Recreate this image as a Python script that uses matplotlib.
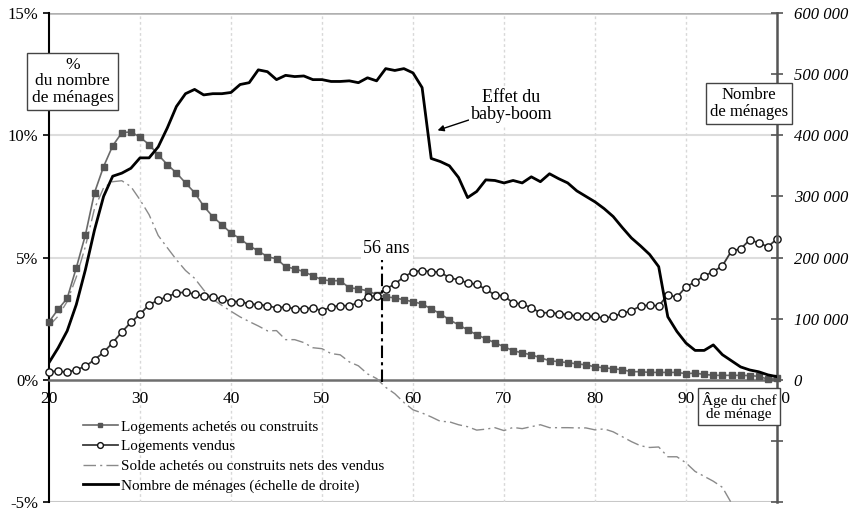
import matplotlib
matplotlib.use("Agg")
import matplotlib.pyplot as plt
import numpy as np
from matplotlib.ticker import FuncFormatter

plt.rcParams['font.family'] = ['Liberation Serif', 'DejaVu Serif']

ages = np.arange(20, 101)

# % du nombre de ménages
achetes = [2.37, 2.88, 3.33, 4.58, 5.92, 7.65, 8.72, 9.57, 10.1, 10.14,
           9.92, 9.62, 9.2, 8.8, 8.46, 8.05, 7.65, 7.1, 6.67, 6.34,
           6.0, 5.77, 5.48, 5.27, 5.03, 4.95, 4.62, 4.54, 4.42, 4.25,
           4.09, 4.05, 4.05, 3.76, 3.72, 3.64, 3.48, 3.39, 3.35, 3.27,
           3.19, 3.1, 2.9, 2.7, 2.45, 2.25, 2.04, 1.84, 1.68, 1.51,
           1.35, 1.19, 1.1, 1.02, 0.9, 0.78, 0.74, 0.7, 0.65, 0.61,
           0.53, 0.49, 0.45, 0.41, 0.33, 0.33, 0.3, 0.3, 0.3, 0.3,
           0.25, 0.27, 0.22, 0.18, 0.18, 0.18, 0.18, 0.17, 0.14, 0.02, 0.07]
vendus = [0.33, 0.35, 0.31, 0.41, 0.55, 0.82, 1.12, 1.52, 1.95, 2.35,
          2.68, 3.07, 3.25, 3.4, 3.55, 3.58, 3.5, 3.43, 3.38, 3.3,
          3.2, 3.2, 3.1, 3.07, 3.03, 2.94, 2.98, 2.9, 2.9, 2.94,
          2.82, 2.98, 3.03, 3.03, 3.15, 3.4, 3.43, 3.7, 3.92, 4.2,
          4.42, 4.46, 4.42, 4.4, 4.17, 4.09, 3.96, 3.9, 3.7, 3.47,
          3.43, 3.14, 3.1, 2.94, 2.74, 2.74, 2.7, 2.66, 2.6, 2.59,
          2.59, 2.52, 2.59, 2.72, 2.82, 3.02, 3.05, 3.02, 3.47, 3.38,
          3.8, 4.0, 4.25, 4.42, 4.66, 5.27, 5.35, 5.72, 5.6, 5.44, 5.76]
solde = [2.2, 2.6, 3.2, 4.2, 5.45, 7.0, 7.85, 8.1, 8.14, 7.9,
         7.36, 6.75, 5.9, 5.4, 4.91, 4.47, 4.15, 3.67, 3.29, 3.04,
         2.8, 2.57, 2.38, 2.2, 2.0, 2.01, 1.64, 1.64, 1.52, 1.31,
         1.27, 1.07, 1.02, 0.73, 0.57, 0.24, 0.05, -0.31, -0.57, -0.93,
         -1.23, -1.36, -1.52, -1.7, -1.72, -1.84, -1.92, -2.06, -2.02, -1.96,
         -2.08, -1.95, -2.0, -1.92, -1.84, -1.96, -1.96, -1.96, -1.97, -1.97,
         -2.05, -2.01, -2.13, -2.33, -2.53, -2.7, -2.77, -2.75, -3.15, -3.15,
         -3.4, -3.75, -3.95, -4.15, -4.4, -5.05, -5.15, -5.5, -5.4, -5.3, -5.7]
# nombre de ménages (échelle de droite)
menages = [28000, 52000, 80000, 123000, 180000, 245000, 300000, 333000, 338000, 346000,
           363000, 363000, 381000, 412000, 447000, 468000, 475000, 466000, 468000, 468000,
           470000, 483000, 486000, 507000, 504000, 491000, 498000, 496000, 497000, 491000,
           491000, 488000, 488000, 489000, 486000, 494000, 489000, 509000, 506000, 509000,
           502000, 478000, 362000, 357000, 350000, 331000, 298000, 308000, 327000, 326000,
           322000, 326000, 322000, 332000, 324000, 337000, 329000, 322000, 309000, 300000,
           291000, 280000, 267000, 249000, 232000, 219000, 205000, 185000, 103000, 79000,
           60000, 48000, 48000, 57000, 41000, 31000, 21000, 16000, 13000, 8000, 5000]

xticks = [20, 30, 40, 50, 60, 70, 80, 90, 100]
yticks = [-5, 0, 5, 10, 15]
yticks_right = [-200000, -100000, 0, 100000, 200000, 300000, 400000, 500000, 600000]

fig = plt.figure(figsize=(8.5, 5.12), dpi=100)
ax = fig.add_axes([49/850, 10/512, 728/850, 489/512])
ax2 = ax.twinx()

ax.set_xlim(20, 100)
ax.set_ylim(-5, 15)
ax2.set_ylim(-200000, 600000)

# grille
for y in [5, 10]:
    ax.axhline(y, color='#dddddd', lw=1.5, zorder=0)
ax.axhline(15, color='#b0b0b0', lw=1.8, zorder=0)
ax.axhline(-5, color='#c8c8c8', lw=1.5, zorder=0)
for x in xticks[1:-1]:
    ax.axvline(x, color='#d8d8d8', lw=1, ls=(0, (2, 2)), zorder=0)

l1, = ax.plot(ages, achetes, color='#6a6a6a', lw=1.2, marker='s', ms=4.2,
              mfc='#555555', mec='#555555', zorder=4, clip_on=False)
l2, = ax.plot(ages, vendus, color='#3a3a3a', lw=1.3, marker='o', ms=5.2,
              mfc='white', mec='#111111', mew=1.0, zorder=5, clip_on=False)
l3, = ax.plot(ages, solde, color='#8a8a8a', lw=1.0, ls=(0, (9, 3, 1.5, 3)), zorder=3)
l4, = ax2.plot(ages, menages, color='black', lw=2.0, zorder=3)

# axes
ax.spines['bottom'].set_position(('data', 0))
ax.spines['bottom'].set_color('#6e6e6e')
ax.spines['bottom'].set_linewidth(1.8)
ax.spines['top'].set_visible(False)
ax.spines['right'].set_visible(False)
ax.spines['left'].set_linewidth(1.5)
for s in ['top', 'left', 'bottom']:
    ax2.spines[s].set_visible(False)
ax2.spines['right'].set_color('#555555')
ax2.spines['right'].set_linewidth(1.8)

ax.set_xticks(xticks)
ax.set_xticklabels([str(v) for v in xticks])
ax.tick_params(axis='x', length=0, pad=8, labelsize=12.5)
ax.set_yticks(yticks)
ax.set_yticklabels([f'{v}%' for v in yticks])
ax.tick_params(axis='y', length=4, width=1.2, labelsize=12)

ax2.set_yticks(yticks_right)
ax2.yaxis.set_major_formatter(FuncFormatter(
    lambda v, p: '' if v < 0 else f'{int(v):,}'.replace(',', ' ')))
ax2.tick_params(axis='y', direction='inout', length=8, width=1.2,
                color='#555555', labelsize=12, pad=8)
for t in ax2.get_yticklabels():
    t.set_fontstyle('italic')

# annotations
box = dict(boxstyle='square,pad=0.25', fc='white', ec='#444444', lw=1)
ax2.text(22.6, 12.2 * 40000, '%\ndu nombre\nde ménages', ha='center', va='center',
         fontsize=12.5, bbox=box, clip_on=False, linespacing=1.05, zorder=10)
ax2.text(96.9, 11.3 * 40000, 'Nombre\nde ménages', ha='center', va='center',
         fontsize=12, bbox=box, clip_on=False, linespacing=1.05, zorder=10)
ax2.text(95.8, -1.1 * 40000, 'Âge du chef\nde ménage', ha='center', va='center',
         fontsize=11, bbox=box, clip_on=False, linespacing=1.05, zorder=10)
ax.annotate('Effet du\nbaby-boom', xy=(62.7, 10.2), xytext=(70.8, 11.2),
            ha='center', va='center', fontsize=13, linespacing=1.05,
            bbox=dict(boxstyle='square,pad=0.1', fc='white', ec='none'),
            arrowprops=dict(arrowstyle='-|>', color='black', lw=1.0,
                            mutation_scale=9, shrinkA=0, shrinkB=0),
            zorder=6)
ax.plot([56.6, 56.6], [-0.1, 4.9], color='black', lw=1.5,
        ls=(0, (6, 2, 1.5, 2)), zorder=6)
ax.text(57.1, 5.35, '56 ans', ha='center', va='center', fontsize=13,
        bbox=dict(boxstyle='square,pad=0.15', fc='white', ec='none'), zorder=6)

leg = ax2.legend([l1, l2, l3, l4],
                 ['Logements achetés ou construits', 'Logements vendus',
                  'Solde achetés ou construits nets des vendus',
                  'Nombre de ménages (échelle de droite)'],
                 loc='upper left', bbox_to_anchor=(83/850, 1 - 420/512),
                 bbox_transform=fig.transFigure, frameon=False, fontsize=10.9,
                 handlelength=2.3, handletextpad=0.2, borderpad=0,
                 borderaxespad=0, labelspacing=0.4, markerscale=0.8)

fig.savefig('out.png', dpi=100)
